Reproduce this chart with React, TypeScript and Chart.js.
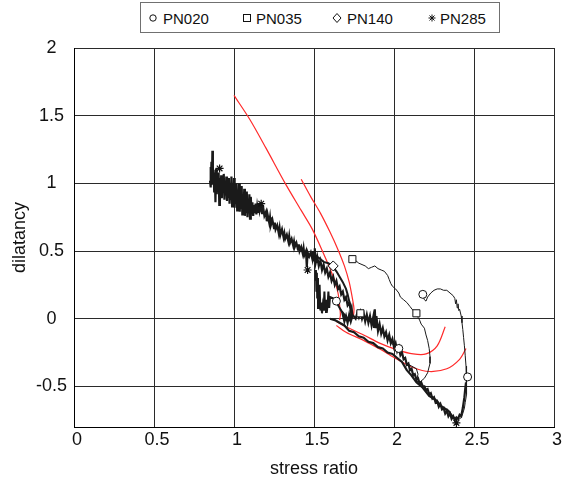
import { useEffect, useRef } from "react";
import { Chart, registerables } from "chart.js";

Chart.register(...registerables);

type P = [number, number];

const FONT = "'Liberation Sans', Arial, Helvetica, sans-serif";

const X_TICKS = [0, 0.5, 1, 1.5, 2, 2.5, 3];
const Y_TICKS = [-0.5, 0, 0.5, 1, 1.5, 2];
const LEGEND_LABELS = ["PN020", "PN035", "PN140", "PN285"];

// PN285 measured trace (thick, noisy)
const pn285Trace: P[] = [
  [0.85, 1.02], [0.853, 1.12], [0.856, 0.97], [0.859, 1.16], [0.862, 1.0], [0.865, 1.24], [0.868, 0.99],
  [0.872, 1.1], [0.876, 0.94], [0.88, 1.08], [0.884, 0.86], [0.888, 1.11], [0.892, 0.92], [0.896, 1.06],
  [0.9, 0.98], [0.904, 1.08], [0.908, 0.84], [0.912, 1.04], [0.916, 0.93], [0.92, 1.06], [0.924, 0.89],
  [0.928, 1.05], [0.932, 0.95], [0.936, 1.07], [0.94, 0.88], [0.944, 1.02], [0.948, 0.91], [0.952, 1.05],
  [0.956, 0.87], [0.96, 1.03], [0.964, 0.9], [0.968, 1.04], [0.972, 0.85], [0.976, 0.99], [0.98, 0.88],
  [0.984, 1.05], [0.988, 0.83], [0.992, 0.97], [0.996, 0.87], [1.0, 1.04], [1.004, 0.82], [1.008, 0.96],
  [1.012, 0.85], [1.016, 1.0], [1.02, 0.8], [1.024, 0.94], [1.028, 0.84], [1.032, 1.0], [1.036, 0.79],
  [1.04, 0.92], [1.044, 0.82], [1.048, 0.98], [1.052, 0.77], [1.056, 0.9], [1.06, 0.8], [1.064, 0.96],
  [1.068, 0.76], [1.072, 0.88], [1.076, 0.79], [1.08, 0.94], [1.084, 0.75], [1.088, 0.86], [1.092, 0.78],
  [1.096, 0.92], [1.1, 0.74], [1.105, 0.9], [1.11, 0.77], [1.115, 0.86], [1.12, 0.76], [1.125, 0.84],
  [1.13, 0.78], [1.135, 0.85], [1.14, 0.77], [1.145, 0.83], [1.15, 0.79], [1.155, 0.85], [1.16, 0.8],
  [1.165, 0.83], [1.17, 0.81],
  [1.175, 0.78], [1.18, 0.84], [1.19, 0.76], [1.2, 0.79], [1.205, 0.72], [1.21, 0.77], [1.22, 0.71],
  [1.225, 0.75], [1.23, 0.69], [1.24, 0.73], [1.25, 0.67], [1.255, 0.71], [1.26, 0.66], [1.27, 0.69],
  [1.28, 0.63], [1.285, 0.67], [1.29, 0.62], [1.3, 0.66], [1.31, 0.6], [1.315, 0.63], [1.32, 0.59],
  [1.33, 0.62], [1.34, 0.57], [1.345, 0.61], [1.35, 0.56], [1.36, 0.59], [1.37, 0.54], [1.375, 0.57],
  [1.38, 0.53], [1.39, 0.56], [1.4, 0.51], [1.405, 0.55], [1.41, 0.5], [1.42, 0.53], [1.43, 0.48],
  [1.435, 0.52], [1.44, 0.47], [1.45, 0.5], [1.455, 0.38], [1.46, 0.49], [1.47, 0.46], [1.48, 0.49],
  [1.49, 0.44], [1.495, 0.5], [1.5, 0.43], [1.505, 0.52], [1.51, 0.41], [1.52, 0.46], [1.53, 0.39],
  [1.54, 0.43], [1.55, 0.36], [1.56, 0.4], [1.57, 0.34], [1.58, 0.37], [1.59, 0.31], [1.6, 0.34],
  [1.61, 0.28], [1.62, 0.31], [1.63, 0.25], [1.64, 0.28], [1.65, 0.22], [1.66, 0.24], [1.67, 0.18],
  [1.68, 0.2], [1.69, 0.14], [1.7, 0.16], [1.71, 0.1], [1.72, 0.12], [1.73, 0.06], [1.735, 0.08],
  [1.74, 0.02], [1.73, -0.02], [1.72, 0.03], [1.71, -0.03], [1.7, 0.02], [1.69, -0.02], [1.68, 0.03],
  [1.7, 0.0], [1.72, -0.01], [1.74, 0.03],
  [1.76, 0.0], [1.77, 0.04], [1.78, 0.01], [1.79, 0.05], [1.8, 0.0], [1.81, 0.04], [1.82, -0.02],
  [1.83, 0.03], [1.84, -0.03], [1.85, 0.02], [1.86, -0.05], [1.87, 0.01], [1.875, -0.06], [1.88, 0.07],
  [1.885, -0.07], [1.89, 0.02], [1.9, -0.09], [1.91, -0.04], [1.92, -0.11], [1.93, -0.07], [1.94, -0.13],
  [1.95, -0.1], [1.96, -0.16], [1.97, -0.12], [1.98, -0.18], [1.99, -0.15], [2.0, -0.21], [2.01, -0.18],
  [2.02, -0.24], [2.03, -0.21], [2.04, -0.27], [2.05, -0.25], [2.06, -0.3], [2.07, -0.29], [2.08, -0.34],
  [2.09, -0.33], [2.1, -0.38], [2.11, -0.37], [2.12, -0.42], [2.13, -0.41], [2.14, -0.45], [2.15, -0.44],
  [2.16, -0.48], [2.17, -0.47], [2.18, -0.5], [2.19, -0.5], [2.2, -0.53], [2.21, -0.52], [2.22, -0.56],
  [2.23, -0.55], [2.24, -0.59], [2.25, -0.58], [2.26, -0.62], [2.27, -0.61], [2.28, -0.65], [2.29, -0.63],
  [2.3, -0.67], [2.31, -0.66], [2.32, -0.7], [2.33, -0.68], [2.34, -0.72], [2.35, -0.7], [2.36, -0.74],
  [2.37, -0.72], [2.38, -0.75], [2.39, -0.73], [2.4, -0.74], [2.41, -0.71], [2.42, -0.72], [2.43, -0.66],
  [2.435, -0.62], [2.44, -0.58], [2.445, -0.52], [2.45, -0.47],
];

// PN140 measured trace (blob near stress ratio 1.5-1.75)
const pn140Trace: P[] = [
  [1.5, 0.47], [1.53, 0.45], [1.56, 0.42], [1.59, 0.41], [1.62, 0.38], [1.64, 0.35], [1.66, 0.31],
  [1.68, 0.27], [1.7, 0.22], [1.71, 0.18], [1.72, 0.13], [1.73, 0.09], [1.735, 0.05], [1.73, 0.02],
  [1.71, 0.0], [1.69, 0.03], [1.67, 0.06], [1.65, 0.1], [1.64, 0.13], [1.62, 0.15], [1.6, 0.16],
  [1.595, 0.08], [1.59, 0.2], [1.585, 0.1], [1.58, 0.05], [1.575, 0.14], [1.57, 0.06], [1.565, 0.2],
  [1.56, 0.06], [1.555, 0.1], [1.55, 0.04], [1.545, 0.12], [1.54, 0.06], [1.535, 0.25], [1.53, 0.08],
  [1.525, 0.3], [1.52, 0.15], [1.518, 0.34], [1.515, 0.2], [1.512, 0.36], [1.51, 0.28],
];

// lower thick branch
const lowerBranch: P[] = [
  [1.6, 0.0], [1.63, -0.01], [1.66, -0.03], [1.69, -0.05], [1.72, -0.09], [1.75, -0.1], [1.78, -0.13],
  [1.81, -0.14], [1.84, -0.17], [1.87, -0.18], [1.9, -0.21], [1.93, -0.22], [1.96, -0.25], [1.99, -0.26],
  [2.02, -0.29], [2.05, -0.32], [2.08, -0.38], [2.11, -0.42], [2.14, -0.47], [2.18, -0.51], [2.22, -0.57],
  [2.26, -0.6], [2.3, -0.65], [2.34, -0.68], [2.37, -0.73], [2.39, -0.74],
];

// PN035 thin loop
const pn035Trace: P[] = [
  [1.74, 0.44], [1.76, 0.43], [1.78, 0.41], [1.8, 0.4], [1.82, 0.39], [1.84, 0.37], [1.86, 0.38],
  [1.88, 0.39], [1.9, 0.37], [1.92, 0.36], [1.94, 0.35], [1.96, 0.32], [1.97, 0.29], [1.98, 0.26],
  [1.99, 0.24], [2.01, 0.22], [2.03, 0.19], [2.04, 0.16], [2.06, 0.14], [2.08, 0.12], [2.1, 0.09],
  [2.12, 0.06], [2.14, 0.04], [2.15, 0.01], [2.16, -0.01], [2.17, -0.04], [2.19, -0.07], [2.2, -0.12],
  [2.21, -0.16], [2.22, -0.22], [2.225, -0.28], [2.225, -0.33], [2.21, -0.4], [2.19, -0.44], [2.16, -0.47],
  [2.14, -0.46], [2.15, -0.41], [2.14, -0.37], [2.11, -0.35], [2.08, -0.33], [2.07, -0.3], [2.06, -0.28],
  [2.04, -0.25], [2.03, -0.23], [2.0, -0.2], [1.97, -0.16], [1.94, -0.12], [1.91, -0.08], [1.88, -0.05],
  [1.85, -0.01], [1.82, 0.02], [1.8, 0.04], [1.79, 0.04],
];

// PN020 thin loop
const pn020Trace: P[] = [
  [2.18, 0.17], [2.19, 0.14], [2.2, 0.13], [2.21, 0.16], [2.23, 0.19], [2.25, 0.21], [2.27, 0.22],
  [2.29, 0.22], [2.31, 0.21], [2.33, 0.21], [2.35, 0.19], [2.37, 0.17], [2.38, 0.15], [2.385, 0.11],
  [2.39, 0.14], [2.395, 0.08], [2.4, 0.11], [2.405, 0.06], [2.41, 0.07], [2.42, 0.02], [2.425, -0.03],
  [2.43, -0.08], [2.435, -0.14], [2.44, -0.2], [2.445, -0.27], [2.45, -0.35], [2.455, -0.43],
  [2.455, -0.5], [2.45, -0.56], [2.445, -0.62], [2.44, -0.66], [2.43, -0.7], [2.42, -0.73], [2.4, -0.75],
  [2.38, -0.74],
];

// model curves (red)
const model1: P[] = [
  [1.0, 1.65], [1.1, 1.47], [1.2, 1.26], [1.32, 1.0], [1.42, 0.8], [1.49, 0.66], [1.56, 0.48],
  [1.6, 0.37], [1.63, 0.28], [1.65, 0.19], [1.66, 0.1], [1.665, 0.03], [1.66, -0.01],
];
const model2: P[] = [
  [1.42, 1.03], [1.48, 0.9], [1.54, 0.78], [1.6, 0.64], [1.65, 0.51], [1.69, 0.39], [1.72, 0.27],
  [1.74, 0.15], [1.75, 0.07], [1.745, 0.01],
];
const model3: P[] = [
  [1.64, -0.02], [1.7, -0.06], [1.81, -0.12], [1.91, -0.18], [2.02, -0.23], [2.12, -0.26], [2.2, -0.26],
  [2.27, -0.2], [2.32, -0.06],
];
const model4: P[] = [
  [1.64, -0.05], [1.7, -0.1], [1.81, -0.16], [1.92, -0.23], [2.02, -0.3], [2.12, -0.36], [2.22, -0.39],
  [2.33, -0.37], [2.41, -0.3], [2.45, -0.22],
];

// marker positions
const pn020Marks: P[] = [[2.18, 0.18], [2.46, -0.43], [2.03, -0.22], [1.64, 0.13]];
const pn035Marks: P[] = [[1.74, 0.44], [2.14, 0.04], [1.79, 0.04]];
const pn140Marks: P[] = [[1.62, 0.39]];
const pn285Marks: P[] = [[0.91, 1.11], [1.17, 0.85], [1.46, 0.36], [2.39, -0.77]];

const toXY = (a: P[]) => a.map(([x, y]) => ({ x, y }));

const lineDs = (d: P[], color: string, width: number, tension = 0) => ({
  data: toXY(d),
  showLine: true,
  borderColor: color,
  borderWidth: width,
  pointRadius: 0,
  tension,
  fill: false,
});

const markDs = (d: P[], style: string, radius: number) => ({
  data: toXY(d),
  showLine: false,
  pointStyle: style,
  pointRadius: radius,
  pointBackgroundColor: "#ffffff",
  pointBorderColor: "#111111",
  pointBorderWidth: 1,
});

const BLACK = "#1a1a1a";
const RED = "#ff2a2a";

function LegendMarker({ kind }: { kind: number }) {
  const s = { position: "absolute" as const, left: -5, top: -5 };
  if (kind === 0)
    return (
      <svg width={10} height={10} style={s}>
        <circle cx={5} cy={5} r={3.2} fill="white" stroke="#111" strokeWidth={1} />
      </svg>
    );
  if (kind === 1)
    return (
      <svg width={10} height={10} style={s}>
        <rect x={1.5} y={1.5} width={7} height={7} fill="white" stroke="#111" strokeWidth={1} />
      </svg>
    );
  if (kind === 2)
    return (
      <svg width={10} height={10} style={s}>
        <polygon points="5,0.5 9,5 5,9.5 1,5" fill="white" stroke="#111" strokeWidth={1} />
      </svg>
    );
  return (
    <svg width={10} height={10} style={s}>
      <path d="M5 1.5 V8.5 M1.5 5 H8.5 M2.5 2.5 L7.5 7.5 M7.5 2.5 L2.5 7.5" stroke="#111" strokeWidth={1} />
    </svg>
  );
}

const legendMarkerX = [153, 247, 337, 432];
const legendTextX = [163, 256, 347, 440];

export default function App() {
  const ref = useRef<HTMLCanvasElement | null>(null);

  useEffect(() => {
    if (!ref.current) return;
    const tickFont = { family: FONT, size: 18 };
    const fmt = (v: any) => String(Number(v));
    const chart = new Chart(ref.current, {
      type: "scatter",
      data: {
        datasets: [
          markDs(pn020Marks, "circle", 4),
          markDs(pn035Marks, "rect", 5),
          markDs(pn140Marks, "rectRot", 5),
          { ...markDs(pn285Marks, "star", 4), pointBorderWidth: 1.2 },
          lineDs(pn020Trace, BLACK, 1),
          lineDs(pn035Trace, BLACK, 1),
          lineDs(pn140Trace, BLACK, 2),
          lineDs(lowerBranch, BLACK, 2.2),
          lineDs(pn285Trace, BLACK, 2.2),
          lineDs(model1, RED, 1.2, 0.3),
          lineDs(model2, RED, 1.2, 0.3),
          lineDs(model3, RED, 1.2, 0.3),
          lineDs(model4, RED, 1.2, 0.3),
        ] as any,
      },
      options: {
        animation: false,
        responsive: false,
        maintainAspectRatio: false,
        devicePixelRatio: 1,
        layout: { padding: { left: 0, right: 8, top: 48, bottom: 0 } },
        plugins: { legend: { display: false }, tooltip: { enabled: false } },
        scales: {
          x: {
            type: "linear",
            min: 0,
            max: 3,
            afterBuildTicks: (s: any) => {
              s.ticks = X_TICKS.map((v) => ({ value: v }));
            },
            afterFit: (s: any) => {
              s.height = 57;
            },
            ticks: {
              font: tickFont,
              color: "#111",
              padding: 2,
              labelOffset: 3,
              maxRotation: 0,
              autoSkip: false,
              callback: fmt,
            },
            grid: { color: "#2a2a2a", lineWidth: 1, drawTicks: false },
            border: { color: "#000", width: 1 },
            title: {
              display: true,
              text: "stress ratio",
              font: tickFont,
              color: "#111",
              padding: { top: 0, bottom: 4 },
            },
          },
          y: {
            type: "linear",
            min: -0.8,
            max: 2,
            afterBuildTicks: (s: any) => {
              s.ticks = Y_TICKS.map((v) => ({ value: v }));
            },
            afterFit: (s: any) => {
              s.width = 74;
            },
            ticks: { font: tickFont, color: "#111", padding: 7, crossAlign: "center", callback: fmt },
            grid: { color: "#2a2a2a", lineWidth: 1, drawTicks: false },
            border: { color: "#000", width: 1 },
            title: {
              display: true,
              text: "dilatancy",
              font: tickFont,
              color: "#111",
              padding: { top: 9, bottom: 0 },
            },
          },
        },
      } as any,
    });
    return () => chart.destroy();
  }, []);

  return (
    <div
      style={{
        position: "fixed",
        left: 0,
        top: 0,
        width: 562,
        height: 484,
        background: "#fff",
        overflow: "hidden",
      }}
    >
      <canvas ref={ref} width={562} height={484} style={{ position: "absolute", left: 0, top: 0 }} />
      <div
        style={{
          position: "absolute",
          left: 140,
          top: 2,
          width: 360,
          height: 31,
          border: "1px solid #707070",
          boxSizing: "border-box",
          background: "#fff",
        }}
      />
      {LEGEND_LABELS.map((lab, i) => (
        <div key={lab}>
          <div style={{ position: "absolute", left: legendMarkerX[i], top: 18, width: 0, height: 0 }}>
            <LegendMarker kind={i} />
          </div>
          <div
            style={{
              position: "absolute",
              left: legendTextX[i],
              top: 10,
              fontFamily: FONT,
              fontSize: 15,
              lineHeight: "17px",
              color: "#111",
              whiteSpace: "nowrap",
            }}
          >
            {lab}
          </div>
        </div>
      ))}
    </div>
  );
}
